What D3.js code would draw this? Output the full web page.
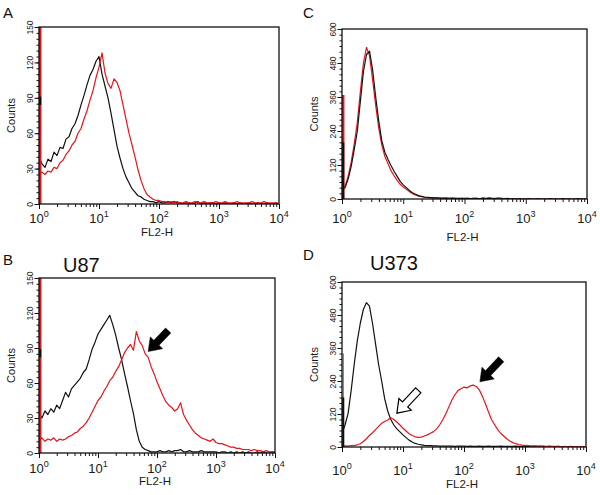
<!DOCTYPE html>
<html>
<head>
<meta charset="utf-8">
<script src="https://cdn.jsdelivr.net/npm/d3@7"></script>
<style>
  html, body { margin: 0; padding: 0; background: #fff; }
  svg { display: block; font-family: "Liberation Sans", Arial, sans-serif; }
</style>
</head>
<body>
<svg id="chart" width="600" height="495"></svg>
<script>
// ---------------- DATA ----------------
// histogram channels, in decades of FL2-H (10^0 .. 10^4), one bin every 0.05 decade
const binDecades = d3.range(81).map(i => i * 0.05);

const aBlack = [40,34,31,38,36,44,41,48,47,55, 57,64,68,75,84,92,101,109,114,121,
  125,110,100,90,77,63,49,39,30,23, 18,13,10,7,6,4,3,2,2,1, 2,1,1,2,1,2,1,1,0,1,
  1,0,1,2,0,1,0,1,1,0, 1,0,1,0,0,1,0,1,0,0, 1,0,0,1,0,0,1,0,0,1,0];
const aRed = [26,27,25,28,27,31,30,35,37,42, 45,50,53,60,64,72,79,88,96,107,
  116,128,111,102,98,106,103,96,84,72, 60,50,40,29,20,13,8,6,4,3, 3,2,2,1,2,1,2,1,1,2,
  1,1,2,1,1,2,1,1,1,2, 1,1,2,1,1,1,2,1,1,1, 1,2,1,1,1,2,1,1,1,1,0];

const bBlack = [34,30,36,33,38,35,41,38,45,52, 48,55,58,61,64,69,72,80,89,95,
  102,106,110,114,118,110,101,90,80,68, 57,45,34,20,10,5,3,2,1,1, 1,2,1,1,2,1,2,2,3,1,
  1,2,1,1,1,2,1,1,1,1, 1,0,1,1,0,1,0,1,0,1, 0,1,0,0,1,0,1,0,0,1,0];
const bRed = [11,13,10,12,11,13,10,12,11,12, 14,15,17,18,21,23,26,30,35,40,
  45,48,53,57,62,65,70,74,80,86, 90,93,88,104,96,92,85,82,74,68, 61,55,49,44,41,39,36,38,43,33,
  28,24,20,17,15,13,12,11,10,12, 9,8,8,7,6,5,5,4,4,3, 3,3,2,3,2,2,1,2,1,1,1];

const cBlack = [32,40,70,115,175,240,345,450,510,522, 455,360,275,205,165,140,118,98,80,62,
  50,40,30,22,17,12,9,7,6,5, 4,4,3,3,3,2,3,2,2,2, 2,2,1,2,1,1,2,1,1,1,
  1,1,0,1,1,0,1,0,1,0, 0,1,0,0,1,0,0,0,1,0, 0,0,1,0,0,0,0,1,0,0,0];
const cRed = [35,45,80,130,195,270,380,480,535,505, 420,330,250,190,150,125,100,82,66,52,
  42,34,26,19,14,10,8,6,5,4, 4,3,3,2,3,2,2,2,1,2, 1,2,1,2,3,1,4,2,5,3,
  2,4,3,1,2,1,0,0,1,0, 0,0,0,0,0,0,0,0,0,0, 0,0,0,0,0,0,0,0,0,0,0];

const dBlack = [50,80,122,205,300,385,450,500,525,512, 450,375,300,240,175,130,100,80,66,55,
  44,34,25,18,13,10,8,6,5,5, 4,4,3,3,3,3,3,2,3,3, 3,2,3,2,2,3,2,2,3,2,
  2,2,3,2,2,2,2,3,2,2, 2,2,1,2,2,1,2,1,2,1, 1,2,1,1,1,2,1,1,1,1,1];
const dRed = [3,4,3,5,6,8,12,20,30,42, 52,63,75,86,93,98,106,100,90,80,
  68,58,48,42,37,35,36,40,44,50, 56,66,80,98,120,145,170,190,205,212,
  218,215,222,225,220,208,185,158,128,100, 82,64,50,40,30,22,16,12,9,7,
  6,5,4,4,3,4,3,2,3,2, 2,2,1,2,1,1,1,1,1,1,1];

// off-scale first-channel counts drawn along the left edge [from, to]
const edgeA = { red: [0, 150], black: [84, 91] };
const edgeB = { red: [0, 150], black: [82, 89] };
const edgeC = { red: [0, 367], black: [0, 200] };
const edgeD = { grey: [0, 340], black: [0, 180] };

const yTicksSmall = [0, 30, 60, 90, 120, 150];
const yTicksLarge = [0, 120, 240, 360, 480, 600];
const xDecadeLabels = [0, 1, 2, 3, 4];

// arrows: tip and tail in data units [FL2-H decade, count]
const arrowsB = [{ tip: [1.85, 87], tail: [2.19, 105], filled: true }];
const arrowsD = [
  { tip: [2.26, 237], tail: [2.61, 319], filled: true },
  { tip: [0.90, 123], tail: [1.25, 206], filled: false }
];

// ---------------- LAYOUT ----------------
const panels = [
  { letter: "A", black: aBlack, red: aRed, yTicks: yTicksSmall, edge: edgeA, arrows: [],
    box: { l: 39, r: 279, t: 27, b: 204 }, letterPos: [3, 18], title: null,
    tickLabelY: 223, xTitleY: 236, redFirst: false },
  { letter: "C", black: cBlack, red: cRed, yTicks: yTicksLarge, edge: edgeC, arrows: [],
    box: { l: 342, r: 587, t: 29, b: 199 }, letterPos: [303, 18], title: null,
    tickLabelY: 223, xTitleY: 241, redFirst: true },
  { letter: "B", black: bBlack, red: bRed, yTicks: yTicksSmall, edge: edgeB, arrows: arrowsB,
    box: { l: 39, r: 275, t: 278, b: 453 }, letterPos: [3, 265], title: "U87", titlePos: [63, 272],
    tickLabelY: 473, xTitleY: 485, redFirst: false },
  { letter: "D", black: dBlack, red: dRed, yTicks: yTicksLarge, edge: edgeD, arrows: arrowsD,
    box: { l: 342, r: 586, t: 282, b: 447 }, letterPos: [303, 260], title: "U373", titlePos: [370, 270],
    tickLabelY: 475, xTitleY: 488, redFirst: false }
];

const RED = "#e3161d";
const svg = d3.select("#chart");

const minorX = [];
for (let k = 0; k < 4; k++) for (let m = 1; m < 10; m++) minorX.push(m * Math.pow(10, k));
minorX.push(10000);

panels.forEach((p, pi) => {
  const { l, r, t, b } = p.box;
  const ymax = p.yTicks[p.yTicks.length - 1];
  const x = d3.scaleLog().domain([1, 10000]).range([l, r]);
  const y = d3.scaleLinear().domain([0, ymax]).range([b, t]);
  const g = svg.append("g");

  const clipId = "clip" + pi;
  svg.append("clipPath").attr("id", clipId)
    .append("rect").attr("x", l).attr("y", t - 1).attr("width", r - l).attr("height", b - t + 1);

  // x axis ticks (minor + major)
  const xMinor = d3.axisBottom(x).tickValues(minorX.filter(v => ![1,10,100,1000,10000].includes(v)))
    .tickSize(3).tickSizeOuter(0).tickFormat("");
  const xMajor = d3.axisBottom(x).tickValues([1, 10, 100, 1000, 10000])
    .tickSize(5).tickSizeOuter(0).tickFormat("");
  [xMinor, xMajor].forEach(ax => {
    const a = g.append("g").attr("transform", `translate(0,${b})`).call(ax);
    a.select(".domain").remove();
    a.selectAll("line").attr("stroke", "#111").attr("stroke-width", 1);
  });

  // x tick labels 10^k
  xDecadeLabels.forEach(k => {
    const tx = g.append("text").attr("x", x(Math.pow(10, k))).attr("y", p.tickLabelY)
      .attr("text-anchor", "middle").attr("font-size", 13).attr("fill", "#1a1a1a");
    tx.append("tspan").text("10");
    tx.append("tspan").attr("dy", -6).attr("font-size", 9).text(String(k));
  });
  g.append("text").attr("x", (l + r) / 2 - 2).attr("y", p.xTitleY)
    .attr("text-anchor", "middle").attr("font-size", 11.5).attr("fill", "#1a1a1a").text("FL2-H");

  // y axis ticks
  const minorY = d3.range(0, ymax + 0.001, ymax / 30);
  const yMinor = d3.axisLeft(y).tickValues(minorY).tickSize(2.5).tickSizeOuter(0).tickFormat("");
  const yMajor = d3.axisLeft(y).tickValues(p.yTicks).tickSize(4.5).tickSizeOuter(0);
  const am = g.append("g").attr("transform", `translate(${l},0)`).call(yMinor);
  am.select(".domain").remove();
  am.selectAll("line").attr("stroke", "#111");
  const aM = g.append("g").attr("transform", `translate(${l},0)`).call(yMajor);
  aM.select(".domain").remove();
  aM.selectAll("line").attr("stroke", "#111");
  aM.selectAll("text")
    .attr("transform", "rotate(-90)")
    .attr("x", 0).attr("y", -6).attr("dy", 0)
    .attr("text-anchor", "middle")
    .attr("font-size", 8.5).attr("fill", "#1a1a1a")
    .attr("font-family", "\"Liberation Sans\", Arial, sans-serif");
  g.append("text")
    .attr("transform", `translate(${l - 24},${(t + b) / 2}) rotate(-90)`)
    .attr("text-anchor", "middle").attr("font-size", 11).attr("fill", "#1a1a1a").text("Counts");

  // histograms
  const line = d3.line()
    .x((d, i) => x(Math.pow(10, binDecades[i])))
    .y(d => y(d))
    .curve(d3.curveLinear);
  const plot = g.append("g").attr("clip-path", `url(#${clipId})`);
  const series = p.redFirst ? [[p.red, RED], [p.black, "#111"]] : [[p.black, "#111"], [p.red, RED]];
  series.forEach(([vals, col]) => {
    plot.append("path").datum(vals).attr("d", line)
      .attr("fill", "none").attr("stroke", col).attr("stroke-width", 1.2)
      .attr("stroke-linejoin", "round");
  });

  // left-edge off-scale channels
  const edgeStyles = { red: [RED, 2.5], black: ["#111", 2.2], grey: ["#555", 1] };
  const edgeOrder = p.letter === "C" ? ["red", "black"] : ["grey", "red", "black"];
  edgeOrder.forEach(key => {
    const seg = p.edge[key];
    if (!seg) return;
    g.append("line").attr("x1", l + 1.2).attr("x2", l + 1.2)
      .attr("y1", y(seg[0])).attr("y2", y(seg[1]))
      .attr("stroke", edgeStyles[key][0]).attr("stroke-width", edgeStyles[key][1]);
  });

  // frame
  g.append("rect").attr("x", l).attr("y", t).attr("width", r - l).attr("height", b - t)
    .attr("fill", "none").attr("stroke", "#111").attr("stroke-width", 1.3);

  // arrows
  p.arrows.forEach(a => {
    const tip = [x(Math.pow(10, a.tip[0])), y(a.tip[1])];
    const tail = [x(Math.pow(10, a.tail[0])), y(a.tail[1])];
    const dx = tip[0] - tail[0], dy = tip[1] - tail[1];
    const L = Math.hypot(dx, dy);
    const u = [dx / L, dy / L], n = [-u[1], u[0]];
    const h = 12, hw = 8.5, sw = 3.6;
    const base = [tip[0] - u[0] * h, tip[1] - u[1] * h];
    const pts = [
      tip,
      [base[0] + n[0] * hw, base[1] + n[1] * hw],
      [base[0] + n[0] * sw, base[1] + n[1] * sw],
      [tail[0] + n[0] * sw, tail[1] + n[1] * sw],
      [tail[0] - n[0] * sw, tail[1] - n[1] * sw],
      [base[0] - n[0] * sw, base[1] - n[1] * sw],
      [base[0] - n[0] * hw, base[1] - n[1] * hw]
    ];
    g.append("path").attr("d", d3.line()(pts) + "Z")
      .attr("fill", a.filled ? "#000" : "#fff")
      .attr("stroke", "#000").attr("stroke-width", a.filled ? 0.5 : 1.2)
      .attr("stroke-linejoin", "miter");
  });

  // panel letter and title
  g.append("text").attr("x", p.letterPos[0]).attr("y", p.letterPos[1])
    .attr("font-size", 15).attr("fill", "#111").text(p.letter);
  if (p.title) {
    g.append("text").attr("x", p.titlePos[0]).attr("y", p.titlePos[1])
      .attr("font-size", 20).attr("fill", "#111").text(p.title);
  }
});
</script>
</body>
</html>
